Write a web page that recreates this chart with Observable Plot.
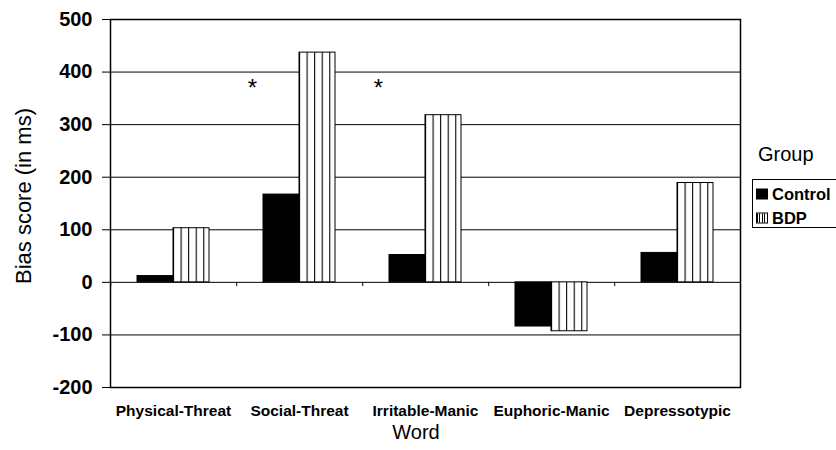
<!DOCTYPE html>
<html><head><meta charset="utf-8">
<script src="https://cdn.jsdelivr.net/npm/d3@7"></script>
<script src="https://cdn.jsdelivr.net/npm/@observablehq/plot@0.6"></script>
<style>
body{margin:0;background:#fff;}
#wrap{position:relative;width:836px;height:450px;font-family:"Liberation Sans",Arial,Helvetica,sans-serif;color:#000;overflow:hidden;}
#wrap svg{position:absolute;left:0;top:0;}
.ytitle{position:absolute;left:24px;top:196px;transform:translate(-50%,-50%) rotate(-90deg);font-size:22px;white-space:nowrap;}
.xtitle{position:absolute;left:416px;top:432px;transform:translate(-50%,-50%);font-size:20px;}
.gtitle{position:absolute;left:758px;top:154px;transform:translateY(-50%);font-size:20px;}
.lbox{position:absolute;left:752px;top:179px;width:120px;height:49px;border:1px solid #000;box-sizing:border-box;}
.litem{position:absolute;left:772px;transform:translateY(-50%);font-size:16.5px;font-weight:bold;}
.sw{position:absolute;left:756px;width:12px;height:11px;box-sizing:border-box;transform:translateY(-50%);}
.sw.c{background:#000;}
.sw.b{border:1px solid #000;background:repeating-linear-gradient(90deg,#000 0 1px,#fff 1px 2.5px);}
</style></head><body><div id="wrap"></div>
<script>
const words = ["Physical-Threat","Social-Threat","Irritable-Manic","Euphoric-Manic","Depressotypic"];
const groups = ["Control","BDP"];
const controlValues = [12,167,52,-84,56];
const bdpValues = [103,437,318,-93,189];
const yTicks = [-200,-100,0,100,200,300,400,500];
const starWords = ["Social-Threat","Irritable-Manic"];
const starValue = 370;
const yTitle = "Bias score (in ms)";
const xTitle = "Word";
const legendTitle = "Group";

const data = [];
words.forEach((w,i)=>{
  data.push({word:w, group:"Control", value:controlValues[i]});
  data.push({word:w, group:"BDP", value:bdpValues[i]});
});

const W=836,H=450,ML=108,MR=95,MT=19,MB=63;
const padOuter=0.71;
const band=(W-ML-MR)/words.length;
const step=band/(2+2*padOuter);
const ctrlCenter=step*(padOuter+0.5);
const font='"Liberation Sans",Arial,Helvetica,sans-serif';

const plot = Plot.plot({
  width:W, height:H, marginLeft:ML, marginRight:MR, marginTop:MT, marginBottom:MB,
  style:{fontFamily:font, background:"transparent", overflow:"visible", color:"#000"},
  fx:{domain:words, padding:0, label:null},
  x:{domain:groups, paddingInner:0, paddingOuter:padOuter, axis:null},
  y:{domain:[-200,500], label:null},
  color:{domain:groups, range:["#000","url(#vstripes)"]},
  marks:[
    Plot.ruleY(yTicks,{stroke:"#000", strokeWidth:1}),
    Plot.barY(data,{fx:"word", x:"group", y:"value", fill:"group", stroke:"#000", strokeWidth:1}),
    Plot.ruleX(words,{fx:d=>d, x:()=>"Control", y1:0, y2:-8, dx:-ctrlCenter, stroke:"#000", strokeWidth:1}),
    Plot.text(starWords,{fx:d=>d, x:()=>"Control", y:()=>starValue, text:()=>"*", dx:-29, fontSize:24, lineAnchor:"middle"}),
    Plot.frame({facet:"super", stroke:"#000", strokeWidth:1.5}),
    Plot.axisY(yTicks,{tickSize:8, tickPadding:10, fontSize:20, fontWeight:"bold", label:null, stroke:"#000", tickFormat:d=>String(d)}),
    Plot.axisFx({anchor:"bottom", tickSize:0, tickPadding:17, fontSize:15.5, fontWeight:"bold", label:null})
  ]
});

const ns="http://www.w3.org/2000/svg";
const defs=document.createElementNS(ns,"defs");
defs.innerHTML='<pattern id="vstripes" patternUnits="objectBoundingBox" patternContentUnits="objectBoundingBox" x="0" y="0" width="0.21" height="1"><rect width="0.21" height="1" fill="#fff"/><rect x="0" width="0.03" height="1" fill="#000"/></pattern>';
plot.insertBefore(defs, plot.firstChild);

const wrap=document.getElementById("wrap");
wrap.appendChild(plot);
function addDiv(cls,text,top){const d=document.createElement("div");d.className=cls;if(text!=null)d.textContent=text;if(top!=null)d.style.top=top+"px";wrap.appendChild(d);return d;}
addDiv("ytitle",yTitle);
addDiv("xtitle",xTitle);
addDiv("gtitle",legendTitle);
addDiv("lbox",null);
addDiv("sw c",null,194);
addDiv("litem",groups[0],194);
addDiv("sw b",null,218);
addDiv("litem",groups[1],218);
</script></body></html>
